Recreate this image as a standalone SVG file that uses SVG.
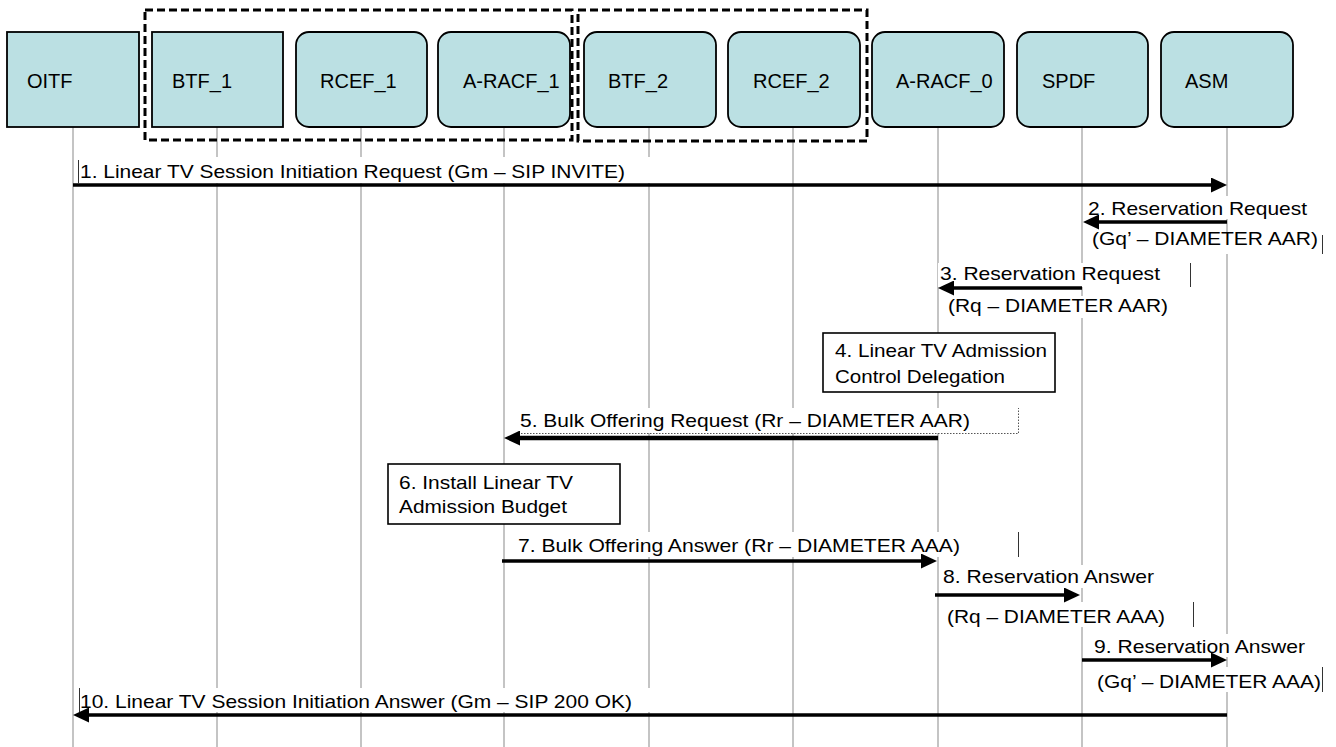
<svg xmlns="http://www.w3.org/2000/svg" width="1336" height="747" viewBox="0 0 1336 747">
<defs>
<style>
.node{fill:#bbe0e3;stroke:#000;stroke-width:1.8}
.nl{font-family:"Liberation Sans",Arial,sans-serif;font-size:20px;fill:#000}
.life{stroke:#c4c4c4;stroke-width:2}
.grp{fill:none;stroke:#000;stroke-width:3;stroke-dasharray:8 4}
.bg{fill:#fff;stroke:none}
.edge{stroke:#333;stroke-width:1}
.msg{fill:none;stroke:#000;stroke-width:3.5}
.t{font-family:"Liberation Sans",Arial,sans-serif;font-size:18.5px;fill:#000}
.note{fill:#fff;stroke:#000;stroke-width:1.6}
</style>
<marker id="ah" markerUnits="userSpaceOnUse" markerWidth="16" markerHeight="15" refX="8" refY="7.5" orient="auto">
<path d="M0,0 L16,7.5 L0,15 z" fill="#000"/>
</marker>
</defs>
<rect width="1336" height="747" fill="#fff"/>

<g id="lifelines">
<line class="life" x1="73" y1="127" x2="73" y2="747"/>
<line class="life" x1="217" y1="127" x2="217" y2="747"/>
<line class="life" x1="361" y1="127" x2="361" y2="747"/>
<line class="life" x1="504" y1="127" x2="504" y2="747"/>
<line class="life" x1="649" y1="127" x2="649" y2="747"/>
<line class="life" x1="793" y1="127" x2="793" y2="747"/>
<line class="life" x1="938" y1="127" x2="938" y2="747"/>
<line class="life" x1="1082" y1="127" x2="1082" y2="747"/>
<line class="life" x1="1227" y1="127" x2="1227" y2="747"/>
</g>

<g id="groups">
<rect class="grp" x="145" y="10" width="427" height="130"/>
<rect class="grp" x="578" y="10" width="289" height="131"/>
</g>

<g id="OITF"><rect class="node" x="7" y="32" width="132" height="95"/><text class="nl" x="27" y="88">OITF</text></g>
<g id="BTF_1"><rect class="node" x="152" y="32" width="131" height="95"/><text class="nl" x="172" y="88">BTF_1</text></g>
<g id="RCEF_1"><rect class="node" x="296" y="32" width="131" height="95" rx="13"/><text class="nl" x="320" y="88">RCEF_1</text></g>
<g id="A-RACF_1"><rect class="node" x="438" y="32" width="132" height="95" rx="13"/><text class="nl" x="463" y="88">A-RACF_1</text></g>
<g id="BTF_2"><rect class="node" x="584" y="32" width="132" height="95" rx="13"/><text class="nl" x="608" y="88">BTF_2</text></g>
<g id="RCEF_2"><rect class="node" x="728" y="32" width="132" height="95" rx="13"/><text class="nl" x="753" y="88">RCEF_2</text></g>
<g id="A-RACF_0"><rect class="node" x="872" y="32" width="132" height="95" rx="13"/><text class="nl" x="896" y="88">A-RACF_0</text></g>
<g id="SPDF"><rect class="node" x="1017" y="32" width="131" height="95" rx="13"/><text class="nl" x="1042" y="88">SPDF</text></g>
<g id="ASM"><rect class="node" x="1161" y="32" width="132" height="95" rx="13"/><text class="nl" x="1185" y="88">ASM</text></g>

<g id="label-backgrounds">
<rect class="bg" x="78" y="157" width="582" height="26"/>
<rect class="bg" x="1086" y="196" width="225" height="23"/>
<rect class="bg" x="1090" y="232" width="232" height="22"/>
<rect class="bg" x="938" y="263" width="252" height="24"/>
<rect class="bg" x="945" y="296" width="228" height="22"/>
<rect class="bg" x="518" y="408" width="500" height="25"/>
<rect class="bg" x="512" y="532" width="506" height="25"/>
<rect class="bg" x="940" y="565" width="220" height="23"/>
<rect class="bg" x="944" y="602" width="249" height="25"/>
<rect class="bg" x="1090" y="634" width="222" height="23"/>
<rect class="bg" x="1094" y="667" width="228" height="25"/>
<rect class="bg" x="79" y="688" width="575" height="24"/>
<line class="edge" x1="78.5" y1="160" x2="78.5" y2="183"/>
<line class="edge" x1="1322.5" y1="235" x2="1322.5" y2="254"/>
<line class="edge" x1="1190.5" y1="263" x2="1190.5" y2="287"/>
<path d="M518,433.5 H1018.5 V408" fill="none" stroke="#555" stroke-width="1" stroke-dasharray="1.5 1.5"/>
<line class="edge" x1="1018.5" y1="532" x2="1018.5" y2="557"/>
<line class="edge" x1="1193.5" y1="602" x2="1193.5" y2="627"/>
<line class="edge" x1="1322.5" y1="667" x2="1322.5" y2="692"/>
<line class="edge" x1="79.5" y1="688" x2="79.5" y2="712"/>
</g>

<g id="notes">
<g id="note4"><rect class="note" x="823" y="333" width="232" height="59"/>
<text class="t" x="835" y="357" textLength="212" lengthAdjust="spacingAndGlyphs">4. Linear TV Admission</text>
<text class="t" x="835" y="383" textLength="170" lengthAdjust="spacingAndGlyphs">Control Delegation</text></g>
<g id="note6"><rect class="note" x="388" y="464" width="232" height="60"/>
<text class="t" x="399" y="489" textLength="174" lengthAdjust="spacingAndGlyphs">6. Install Linear TV</text>
<text class="t" x="399" y="513" textLength="168" lengthAdjust="spacingAndGlyphs">Admission Budget</text></g>
</g>

<g id="connectors">
<line class="msg" x1="73" y1="185" x2="1219" y2="185" marker-end="url(#ah)"/>
<line class="msg" x1="1227" y1="222" x2="1091" y2="222" marker-end="url(#ah)"/>
<line class="msg" x1="1082" y1="288" x2="946" y2="288" marker-end="url(#ah)"/>
<line class="msg" x1="938" y1="438" x2="512" y2="438" marker-end="url(#ah)" style="stroke-width:4.5"/>
<line class="msg" x1="502" y1="561" x2="929" y2="561" marker-end="url(#ah)"/>
<line class="msg" x1="935" y1="595" x2="1072" y2="595" marker-end="url(#ah)"/>
<line class="msg" x1="1082" y1="660" x2="1219" y2="660" marker-end="url(#ah)"/>
<line class="msg" x1="1227" y1="715" x2="81" y2="715" marker-end="url(#ah)"/>
</g>

<g id="labels">
<text class="t" x="80" y="178" textLength="545" lengthAdjust="spacingAndGlyphs">1. Linear TV Session Initiation Request (Gm – SIP INVITE)</text>
<text class="t" x="1088" y="215" textLength="219" lengthAdjust="spacingAndGlyphs">2. Reservation Request</text>
<text class="t" x="1092" y="245" textLength="226" lengthAdjust="spacingAndGlyphs">(Gq’ – DIAMETER AAR)</text>
<text class="t" x="940" y="280" textLength="220" lengthAdjust="spacingAndGlyphs">3. Reservation Request</text>
<text class="t" x="948" y="312" textLength="220" lengthAdjust="spacingAndGlyphs">(Rq – DIAMETER AAR)</text>
<text class="t" x="520" y="427" textLength="450" lengthAdjust="spacingAndGlyphs">5. Bulk Offering Request (Rr – DIAMETER AAR)</text>
<text class="t" x="518" y="552" textLength="442" lengthAdjust="spacingAndGlyphs">7. Bulk Offering Answer (Rr – DIAMETER AAA)</text>
<text class="t" x="943" y="583" textLength="211" lengthAdjust="spacingAndGlyphs">8. Reservation Answer</text>
<text class="t" x="947" y="623" textLength="218" lengthAdjust="spacingAndGlyphs">(Rq – DIAMETER AAA)</text>
<text class="t" x="1094" y="653" textLength="211" lengthAdjust="spacingAndGlyphs">9. Reservation Answer</text>
<text class="t" x="1097" y="688" textLength="224" lengthAdjust="spacingAndGlyphs">(Gq’ – DIAMETER AAA)</text>
<text class="t" x="80" y="708" textLength="552" lengthAdjust="spacingAndGlyphs">10. Linear TV Session Initiation Answer (Gm – SIP 200 OK)</text>
</g>
</svg>
